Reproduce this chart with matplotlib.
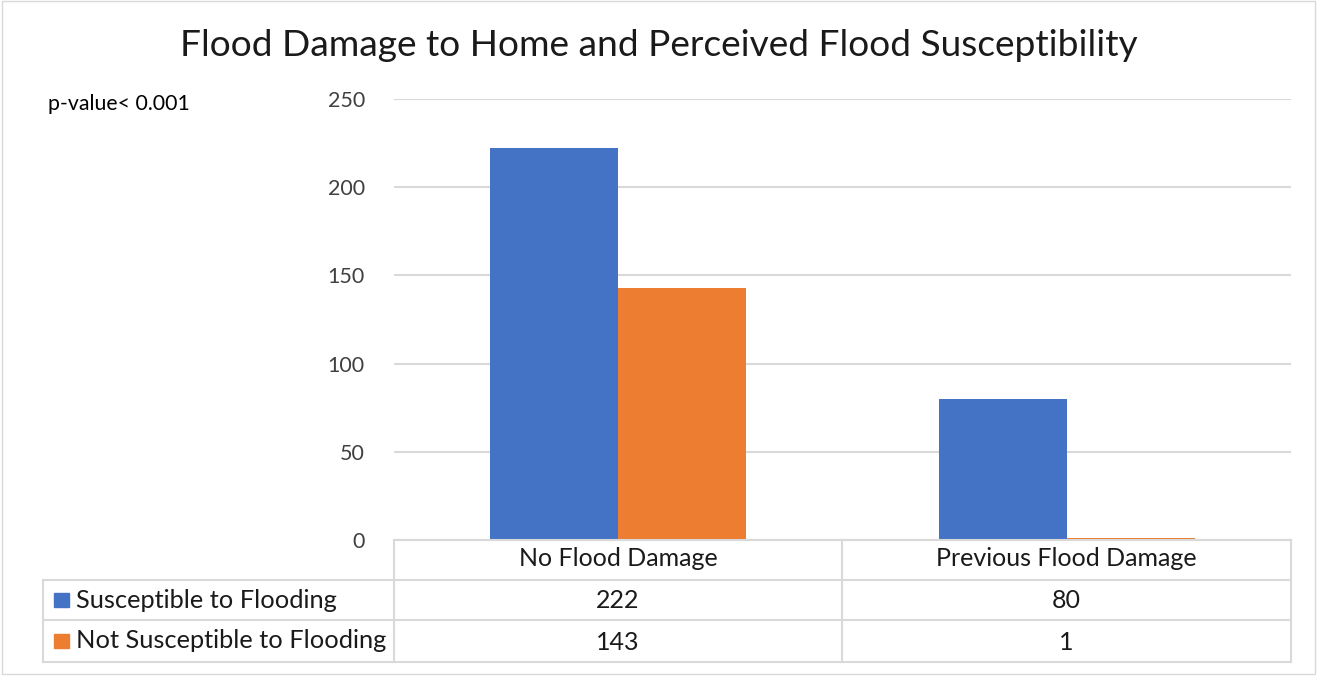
import matplotlib.pyplot as plt
import numpy as np

# Survey counts
categories = ['No Flood Damage', 'Previous Flood Damage']
series_names = ['Susceptible to Flooding', 'Not Susceptible to Flooding']
susceptible = [222, 80]
not_susceptible = [143, 1]
colors = ['#4472C4', '#ED7D31']
yticks = [0, 50, 100, 150, 200, 250]

W, H = 1317, 676
plt.rcParams['font.family'] = ['Lato', 'DejaVu Sans']

fig = plt.figure(figsize=(W / 100, H / 100), dpi=100)


def fx(px):
    return px / W


def fy(py):
    return 1 - py / H


# plot area in pixel coordinates
left, right, top, bottom = 394, 1291, 99, 540
ax = fig.add_axes([fx(left), fy(bottom), fx(right - left), fy(top) - fy(bottom)])

x = np.arange(len(categories))
bw = 0.2857
ax.bar(x - bw / 2, susceptible, bw, color=colors[0], zorder=3)
ax.bar(x + bw / 2, not_susceptible, bw, color=colors[1], zorder=3)
ax.set_xlim(-0.5, len(categories) - 0.5)
ax.set_ylim(0, 250)
ax.set_yticks(yticks)
ax.set_xticks([])
ax.tick_params(axis='y', length=0, pad=21, labelsize=15.5, labelcolor='#404040')
ax.grid(axis='y', color='#D9D9D9', linewidth=1.5, zorder=0)
for s in ['top', 'right', 'left', 'bottom']:
    ax.spines[s].set_visible(False)

# data table under the axis
line_kw = dict(color='#D9D9D9', linewidth=1.5, transform=fig.transFigure, clip_on=False)
rows_y = [540, 580, 620, 662]
cols_x = [394, 842, 1291]
tab_left = 43
fig.add_artist(plt.Line2D([fx(left), fx(right)], [fy(540), fy(540)], **line_kw))
for ry in rows_y[1:]:
    fig.add_artist(plt.Line2D([fx(tab_left), fx(right)], [fy(ry), fy(ry)], **line_kw))
for cx in cols_x:
    fig.add_artist(plt.Line2D([fx(cx), fx(cx)], [fy(540), fy(662)], **line_kw))
fig.add_artist(plt.Line2D([fx(tab_left), fx(tab_left)], [fy(580), fy(662)], **line_kw))

txt_kw = dict(fontsize=18, color='#1a1a1a', ha='center', va='center')
for i, cat in enumerate(categories):
    cx = (cols_x[i] + cols_x[i + 1]) / 2
    fig.text(fx(cx), fy(559), cat, **txt_kw)
    fig.text(fx(cx), fy(600), str(susceptible[i]), **txt_kw)
    fig.text(fx(cx), fy(642), str(not_susceptible[i]), **txt_kw)

for j, (name, c) in enumerate(zip(series_names, colors)):
    cy = (rows_y[j + 1] + rows_y[j + 2]) / 2
    fig.add_artist(plt.Rectangle((fx(54), fy(cy + 7)), fx(15), fy(cy - 7) - fy(cy + 7),
                                 color=c, transform=fig.transFigure))
    fig.text(fx(76), fy(cy), name, fontsize=18.3, color='#1a1a1a', ha='left', va='center')

fig.text(0.5, fy(46), 'Flood Damage to Home and Perceived Flood Susceptibility',
         fontsize=26.7, color='#1a1a1a', ha='center', va='center')
fig.text(fx(48), fy(104), 'p-value< 0.001', fontsize=15.3, color='black', ha='left', va='center')

# outer chart border
fig.add_artist(plt.Rectangle((fx(2), fy(674)), fx(1313), fy(1) - fy(674), fill=False,
                             edgecolor='#D9D9D9', linewidth=1, transform=fig.transFigure))

fig.savefig('out.png', dpi=100)
